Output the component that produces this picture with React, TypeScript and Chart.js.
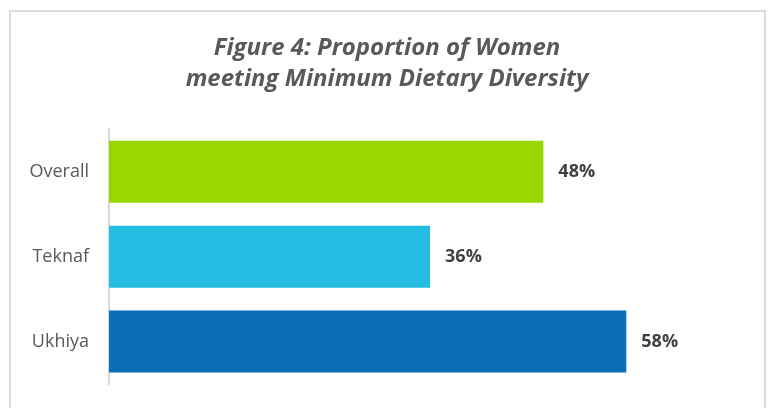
import React, { useEffect, useRef } from "react";
import { Chart, registerables } from "chart.js";

Chart.register(...registerables);

const titleLines = ["Figure 4: Proportion of Women", "meeting Minimum Dietary Diversity"];
const categories = ["Overall", "Teknaf", "Ukhiya"];
const values = [48.7, 36, 58];
const valueLabels = ["48%", "36%", "58%"];
const barColors = ["#98d700", "#26bde2", "#0a6fb4"];

const valueLabelPlugin = {
  id: "valueLabels",
  afterDatasetsDraw(chart: any) {
    const ctx = chart.ctx;
    const meta = chart.getDatasetMeta(0);
    ctx.save();
    ctx.font = "bold 18px 'Open Sans'";
    ctx.fillStyle = "#404040";
    ctx.textAlign = "left";
    ctx.textBaseline = "middle";
    meta.data.forEach((bar: any, i: number) => {
      ctx.fillText(valueLabels[i], bar.x + 15, bar.y);
    });
    ctx.restore();
  },
};

export default function App() {
  const ref = useRef<HTMLCanvasElement>(null);
  useEffect(() => {
    if (!ref.current) return;
    const chart = new Chart(ref.current, {
      type: "bar",
      data: {
        labels: categories,
        datasets: [
          {
            data: values,
            backgroundColor: barColors,
            borderWidth: 0,
            categoryPercentage: 1,
            barPercentage: 0.73,
          },
        ],
      },
      options: {
        indexAxis: "y",
        responsive: false,
        animation: false,
        devicePixelRatio: 1,
        layout: { padding: { left: 5, right: 0, top: 0, bottom: 24 } },
        plugins: {
          legend: { display: false },
          tooltip: { enabled: false },
          title: {
            display: true,
            text: titleLines,
            color: "#595959",
            font: { family: "'Open Sans'", size: 24, style: "italic", weight: "bold", lineHeight: 1.32 },
            padding: { top: 32, bottom: 34 },
          },
        },
        scales: {
          x: { display: false, min: 0, max: 74 },
          y: {
            grid: { display: false, drawTicks: false },
            border: { display: true, color: "#d9d9d9", width: 2 },
            ticks: {
              color: "#595959",
              font: { family: "'Open Sans'", size: 18 },
              padding: 20,
            },
            afterFit(scale: any) {
              scale.width = 104;
              scale.paddingTop = 0;
              scale.paddingBottom = 0;
            },
          },
        },
      },
      plugins: [valueLabelPlugin],
    });
    return () => chart.destroy();
  }, []);

  return (
    <div style={{ position: "fixed", left: 0, top: 0, width: 769, height: 408, background: "#fff", overflow: "hidden" }}>
      <div
        style={{
          position: "absolute",
          left: 9,
          top: 10,
          width: 757,
          height: 430,
          border: "2px solid #dcdcdc",
          boxSizing: "border-box",
        }}
      />
      <canvas ref={ref} width={769} height={408} style={{ position: "absolute", left: 0, top: 0, width: 769, height: 408 }} />
    </div>
  );
}
